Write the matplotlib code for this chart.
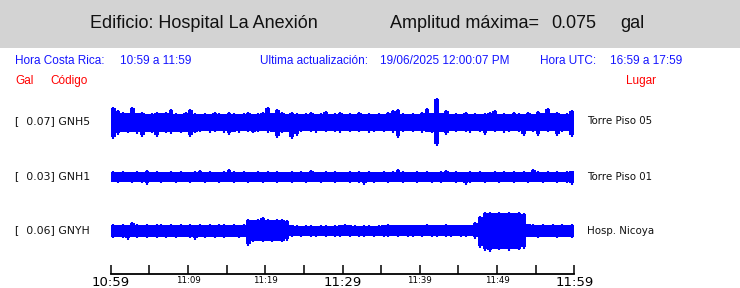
import numpy as np
import matplotlib
matplotlib.use("Agg")
import matplotlib.pyplot as plt
from matplotlib.patches import Rectangle

# ---------------- data ----------------
building = "Edificio: Hospital La Anexión"
max_amp = "0.075"
cr_time = "10:59 a 11:59"
utc_time = "16:59 a 17:59"
updated = "19/06/2025 12:00:07 PM"

codes = ["GNH5", "GNH1", "GNYH"]
peak_gal = [0.07, 0.03, 0.06]
places = ["Torre Piso 05", "Torre Piso 01", "Hosp. Nicoya"]

tick_minutes = [0, 5, 10, 15, 20, 25, 30, 35, 40, 45, 50, 55, 60]
tick_labels = ["10:59", "", "11:09", "", "11:19", "", "11:29", "", "11:39", "", "11:49", "", "11:59"]
big_labels = ["10:59", "11:29", "11:59"]

# envelope (upper / lower excursion, display units) per 37.5 s bin, 96 bins over the hour
gnh5_up = [15,12,10,9,15,9,10,8,9,10,9,10,13,9,8,10,13,9,8,9,8,10,9,8,10,9,8,9,10,8,9,10,
           15,9,13,10,8,10,9,8,9,10,8,9,11,8,9,10,8,9,8,10,8,9,8,9,8,10,12,13,9,8,9,8,
           10,14,9,24,9,12,8,9,8,10,8,9,8,9,10,12,8,9,8,10,9,8,10,8,11,9,14,9,10,8,9,12]
gnh5_dn = [17,13,10,11,10,12,15,10,11,15,10,11,12,10,11,10,15,11,10,9,11,10,9,11,13,10,11,9,10,11,10,9,
           11,10,16,11,10,17,14,10,9,10,11,9,10,9,10,11,9,10,9,10,9,11,10,9,10,9,11,16,10,9,10,9,
           11,10,11,24,10,13,9,10,9,10,11,9,10,13,9,10,9,11,10,9,10,14,9,10,14,9,10,9,14,10,9,15]
gnh1_up = [6,5,6,5,5,6,5,7,5,6,5,5,6,5,6,5,5,6,7,5,6,5,5,6,8,6,5,6,5,5,6,5,
           6,5,6,5,5,6,5,6,5,7,5,5,6,5,6,5,5,6,5,6,5,6,5,5,6,5,6,8,6,5,5,6,
           5,6,5,5,6,7,5,6,5,5,6,5,6,5,5,6,5,6,5,6,5,6,5,8,6,5,6,5,6,5,6,6]
gnh1_dn = [5,6,5,5,6,5,6,8,5,5,6,5,5,6,5,5,6,5,5,6,5,5,6,5,5,6,5,5,6,5,5,6,
           5,5,6,5,5,6,5,5,6,5,5,6,5,5,6,5,5,6,5,6,8,5,6,5,5,6,5,5,6,5,5,6,
           5,5,6,5,6,5,5,6,5,8,6,5,5,6,5,5,6,5,5,6,5,5,6,5,5,6,5,5,6,5,6,8]
gnyh_up = [7,6,7,6,9,7,6,7,6,7,7,6,7,6,7,6,7,6,7,6,7,6,7,7,6,7,6,7,12,11,12,14,
           12,11,12,12,11,6,6,5,6,6,5,6,6,5,6,6,7,6,6,5,6,6,5,6,6,7,6,6,6,6,6,6,
           6,7,6,6,6,7,6,6,6,6,6,9,15,19,19,18,19,18,19,18,19,18,7,7,6,7,6,7,6,7,6,7]
gnyh_dn = [7,6,7,9,6,7,6,7,6,7,6,7,6,7,6,6,7,9,6,7,6,7,6,7,6,6,7,6,15,11,10,11,
           10,11,10,11,10,6,5,6,5,6,6,5,6,5,6,6,5,6,5,6,6,5,6,5,6,6,5,6,5,6,6,5,
           6,5,6,6,5,6,6,5,6,6,5,8,17,20,21,18,19,18,20,18,19,18,6,6,7,6,6,6,7,6,6,7]

uppers = [gnh5_up, gnh1_up, gnyh_up]
lowers = [gnh5_dn, gnh1_dn, gnyh_dn]

# ---------------- layout ----------------
W, H = 740, 288
fig = plt.figure(figsize=(W / 100, H / 100), dpi=100)
fx = lambda px: px / W
fy = lambda py: 1 - py / H

# grey header band
fig.patches.append(Rectangle((0, fy(48)), 1, 48 / H, transform=fig.transFigure,
                             facecolor="#d3d3d3", edgecolor="none", zorder=0))

hfont = ["Liberation Sans", "DejaVu Sans"]
tcol = "#111111"
fig.text(fx(90), fy(23), building, fontsize=13, family=hfont, color=tcol, va="center")
fig.text(fx(390), fy(23), "Amplitud máxima=", fontsize=13, family=hfont, color=tcol, va="center")
fig.text(fx(551), fy(23), max_amp, fontsize=13, family=hfont, color=tcol, va="center")
fig.text(fx(620), fy(23), "gal", fontsize=13, family=hfont, color=tcol, va="center")

blue = "#1414ff"
bfs = 8.5
fig.text(fx(15), fy(61), "Hora Costa Rica:", fontsize=bfs, family=hfont, color=blue, va="center")
fig.text(fx(120), fy(61), cr_time, fontsize=bfs, family=hfont, color=blue, va="center")
fig.text(fx(260), fy(61), "Ultima actualización:", fontsize=bfs, family=hfont, color=blue, va="center")
fig.text(fx(380), fy(61), updated, fontsize=bfs, family=hfont, color=blue, va="center")
fig.text(fx(540), fy(61), "Hora UTC:", fontsize=bfs, family=hfont, color=blue, va="center")
fig.text(fx(610), fy(61), utc_time, fontsize=bfs, family=hfont, color=blue, va="center")

red = "#ff0000"
fig.text(fx(15), fy(81), "Gal", fontsize=bfs, family=hfont, color=red, va="center")
fig.text(fx(50), fy(81), "Código", fontsize=bfs, family=hfont, color=red, va="center")
fig.text(fx(626), fy(81), "Lugar", fontsize=bfs, family=hfont, color=red, va="center")

# trace axes
x0, x1, ytop, ybot = 110.7, 574.3, 95, 274
ax = fig.add_axes([fx(x0), fy(ybot), (x1 - x0) / W, (ybot - ytop) / H])
ax.set_xlim(0, 60)
ax.set_ylim(ybot, ytop)
ax.patch.set_alpha(0)
for s in ["top", "left", "right"]:
    ax.spines[s].set_visible(False)
ax.spines["bottom"].set_linewidth(1.3)
ax.set_yticks([])

centers = [121.5, 176.5, 230.5]
nb = len(gnh5_up)
edges = np.linspace(0, 60, nb + 1)
mids = 0.5 * (edges[:-1] + edges[1:])


def core_level(a):
    p = np.pad(a, 1, mode="edge")
    lo = np.minimum(np.minimum(p[:-2], p[1:-1]), p[2:])
    return np.maximum(lo, a - 1.5)


for c, up, dn, code, pk, place in zip(centers, uppers, lowers, codes, peak_gal, places):
    up = np.asarray(up, float)
    dn = np.asarray(dn, float)
    # dense core of the trace
    ax.stairs(c - core_level(up), edges, baseline=c + core_level(dn), fill=True,
              color="#0000ff", lw=0)
    # individual peaks
    ax.vlines(mids, c - up, c + dn, color="#0000ff", lw=1.5)
    fig.text(fx(15), fy(c), f"[  {pk:.2f}] {code}", fontsize=7.8, family="DejaVu Sans",
             color="#111111", va="center")
    fig.text(fx(587), fy(c), place, fontsize=7.4, family="DejaVu Sans",
             color="#111111", va="center")

ax.set_xticks(tick_minutes)
ax.set_xticklabels(tick_labels)
ax.tick_params(axis="x", direction="in", length=6.5, width=1.1, pad=1.5, color="black")
for lab in ax.get_xticklabels():
    if lab.get_text() in big_labels:
        lab.set_fontsize(9.5)
    else:
        lab.set_fontsize(6.2)
    lab.set_family("DejaVu Sans")

fig.savefig("out.png", dpi=100)
